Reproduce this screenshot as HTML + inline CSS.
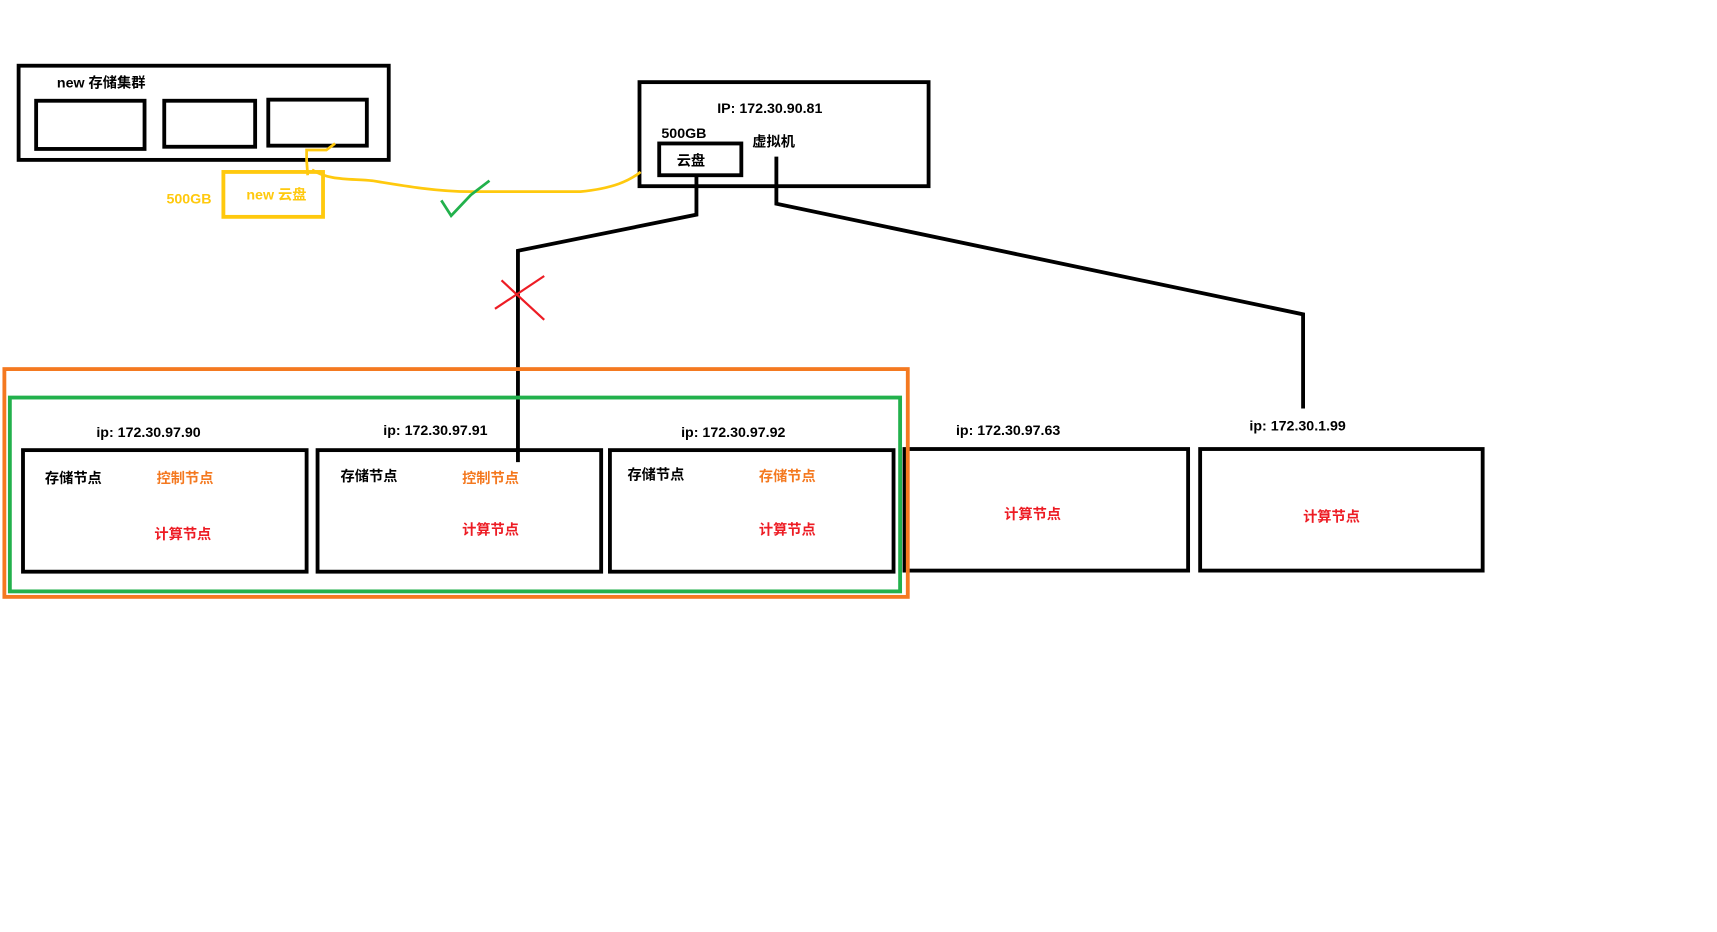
<!DOCTYPE html>
<html><head><meta charset="utf-8"><style>
html,body{margin:0;padding:0;background:#fff;}
svg{display:block;}
text{font-family:"Liberation Sans","Noto Sans CJK SC",sans-serif;font-weight:bold;}
</style></head><body>
<svg width="1717" height="932" viewBox="0 0 1568 851" preserveAspectRatio="none" xmlns="http://www.w3.org/2000/svg">
<rect width="1568" height="851" fill="#fff"/>
<g fill="none" stroke="#000" stroke-width="3.5">
<rect x="17" y="60" width="338" height="86"/>
<rect x="33" y="92" width="99" height="44"/>
<rect x="150" y="92" width="83" height="42"/>
<rect x="245" y="91" width="90" height="42"/>
<rect x="584" y="75" width="264" height="95"/>
<rect x="602" y="131" width="75" height="29"/>
<polyline points="636,160 636,196 473,229 473,422"/>
<polyline points="709,143 709,186 1190,287 1190,373"/>
<rect x="21" y="411" width="259" height="111"/>
<rect x="290" y="411" width="259" height="111"/>
<rect x="557" y="411" width="259" height="111"/>
<rect x="826" y="410" width="259" height="111"/>
<rect x="1096" y="410" width="258" height="111"/>
</g>
<rect x="4" y="337" width="825" height="208" fill="none" stroke="#f47920" stroke-width="3.5"/>
<rect x="9" y="363" width="813" height="177" fill="none" stroke="#22b14c" stroke-width="3.5"/>
<rect x="204" y="157" width="91" height="41" fill="none" stroke="#ffc90e" stroke-width="3.5"/>
<g fill="none" stroke="#ffc90e" stroke-width="2.5">
<polyline points="281,160 280,146 280,137 298,137 306,131"/>
<path d="M285,155 C300,165 320,163 340,165 C370,170 400,175 430,175 L530,175 C560,172 575,165 585,157"/>
</g>
<polyline points="403,183 412,197 430,178 447,165" fill="none" stroke="#22b14c" stroke-width="2.5"/>
<g stroke="#ed1c24" stroke-width="2">
<line x1="452" y1="282" x2="497" y2="252"/>
<line x1="458" y1="256" x2="497" y2="292"/>
</g>
<g font-size="13" fill="#000">
<text x="52" y="80">new 存储集群</text>
<text x="655" y="103">IP: 172.30.90.81</text>
<text x="604" y="126">500GB</text>
<text x="687" y="134">虚拟机</text>
<text x="618" y="151">云盘</text>
<text x="88" y="399">ip: 172.30.97.90</text>
<text x="350" y="397">ip: 172.30.97.91</text>
<text x="622" y="399">ip: 172.30.97.92</text>
<text x="873" y="397">ip: 172.30.97.63</text>
<text x="1141" y="393">ip: 172.30.1.99</text>
<text x="41" y="441">存储节点</text>
<text x="311" y="439">存储节点</text>
<text x="573" y="438">存储节点</text>
</g>
<g font-size="13" fill="#ffc90e">
<text x="152" y="186">500GB</text>
<text x="225" y="182">new 云盘</text>
</g>
<g font-size="13" fill="#f47920">
<text x="143" y="441">控制节点</text>
<text x="422" y="441">控制节点</text>
<text x="693" y="439">存储节点</text>
</g>
<g font-size="13" fill="#ed1c24">
<text x="141" y="492">计算节点</text>
<text x="422" y="488">计算节点</text>
<text x="693" y="488">计算节点</text>
<text x="917" y="474">计算节点</text>
<text x="1190" y="476">计算节点</text>
</g>
</svg>
</body></html>
